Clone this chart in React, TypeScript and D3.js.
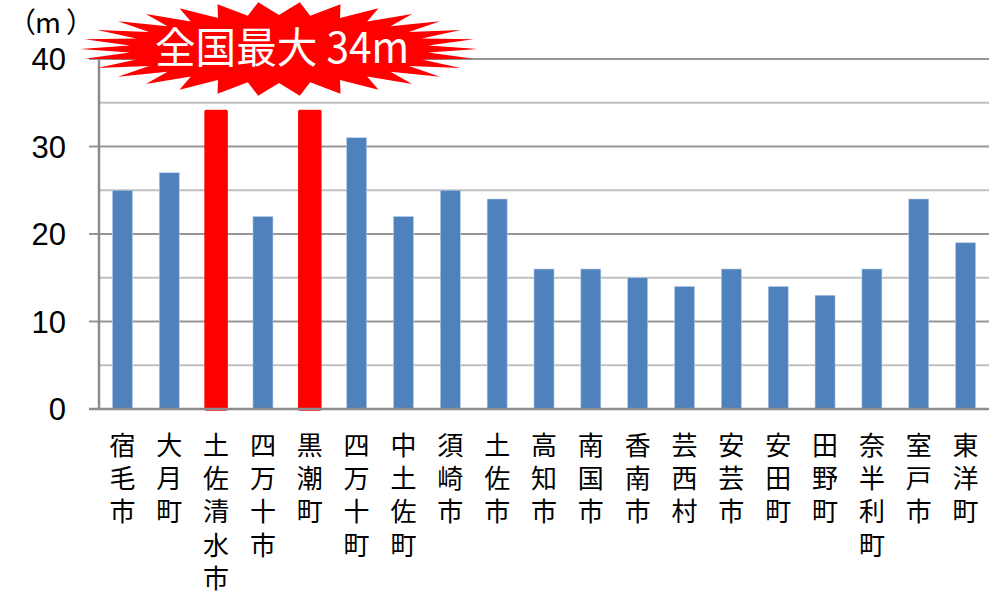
import React from "react";
import * as d3 from "d3";

const categories = [
  "宿毛市", "大月町", "土佐清水市", "四万十市", "黒潮町", "四万十町", "中土佐町",
  "須崎市", "土佐市", "高知市", "南国市", "香南市", "芸西村", "安芸市",
  "安田町", "田野町", "奈半利町", "室戸市", "東洋町",
];
const values = [25, 27, 34, 22, 34, 31, 22, 25, 24, 16, 16, 15, 14, 16, 14, 13, 16, 24, 19];
const highlighted = ["土佐清水市", "黒潮町"];
const majorTicks = [0, 10, 20, 30, 40];
const minorTicks = [5, 15, 25, 35];
const calloutText = "全国最大 34m";

const W = 995;
const H = 592;
const left = 99;
const right = 989;
const top = 59;
const bottom = 409;

function starPath(cx: number, cy: number, rxO: number, ryO: number, rxI: number, ryI: number, n: number) {
  const pts: [number, number][] = [];
  for (let i = 0; i < n * 2; i++) {
    const a = (Math.PI * i) / n;
    const outer = i % 2 === 0;
    const rx = outer ? rxO : rxI;
    const ry = outer ? ryO : ryI;
    pts.push([cx + rx * Math.cos(a), cy + ry * Math.sin(a)]);
  }
  return d3.line()(pts) + "Z";
}

export default function App() {
  const x = d3.scaleBand<string>().domain(categories).range([left, right]).paddingInner(0.573).paddingOuter(0.2865);
  const y = d3.scaleLinear().domain([0, 40]).range([bottom, top]);
  const bw = x.bandwidth();
  const cjk = "'Noto Sans CJK JP', sans-serif";

  return (
    <svg width={W} height={H} style={{ position: "absolute", left: 0, top: 0, background: "#fff" }}>
      {/* gridlines */}
      {minorTicks.map((t) => (
        <line key={"m" + t} x1={left} x2={right} y1={y(t)} y2={y(t)} stroke="#c0c0c0" strokeWidth={2} />
      ))}
      {majorTicks.filter((t) => t > 0).map((t) => (
        <line key={"M" + t} x1={89} x2={right} y1={y(t)} y2={y(t)} stroke="#969696" strokeWidth={2} />
      ))}
      {/* bars */}
      {categories.map((c, i) => {
        const hl = highlighted.includes(c);
        const x0 = x(c)!;
        return hl ? (
          <rect key={c} x={x0} y={y(values[i])} width={bw} height={bottom - y(values[i])}
            fill="#ff0000" stroke="#ff0000" strokeWidth={3.5} strokeLinejoin="round" />
        ) : (
          <rect key={c} x={x0} y={y(values[i])} width={bw} height={bottom - y(values[i])}
            fill="#4f81bd" stroke="#b9cde5" strokeWidth={0.6} />
        );
      })}
      {/* axes */}
      <line x1={left} x2={left} y1={top} y2={bottom} stroke="#8c8c8c" strokeWidth={2.5} />
      <line x1={89} x2={right} y1={bottom} y2={bottom} stroke="#8c8c8c" strokeWidth={2.5} />
      {/* y labels */}
      {majorTicks.map((t) => (
        <text key={"l" + t} x={66} y={y(t)} dy="0.36em" textAnchor="end"
          fontFamily="'Liberation Sans', Arial, sans-serif" fontSize={31} fill="#000">{t}</text>
      ))}
      {/* x labels */}
      {categories.map((c) => (
        <text key={"x" + c} textAnchor="middle" fontFamily={cjk} fontSize={26} fill="#000">
          {Array.from(c).map((ch, j) => (
            <tspan key={j} x={x(c)! + bw / 2} y={455 + j * 33.2}>{ch}</tspan>
          ))}
        </text>
      ))}
      {/* unit */}
      <text y={33} fontFamily={cjk} fontSize={28} fill="#000">
        <tspan x={8}>（</tspan>
        <tspan x={35}>m</tspan>
        <tspan x={66}>）</tspan>
      </text>
      {/* callout */}
      <path d={starPath(279, 49, 199, 47, 150, 34, 30)} fill="#ff0000" />
      <text x={155} y={63} fontFamily={cjk} fontSize={42} fill="#fff"
        textLength={254} lengthAdjust="spacingAndGlyphs">{calloutText}</text>
    </svg>
  );
}
